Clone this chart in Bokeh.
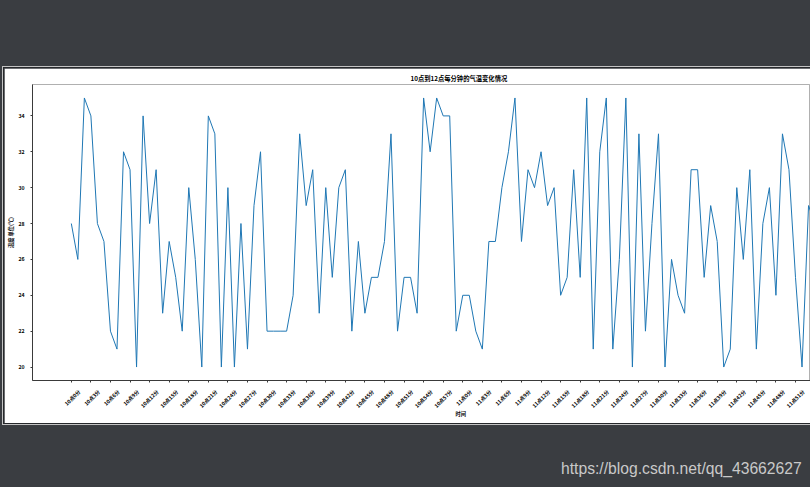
import math
from bokeh.plotting import figure
from bokeh.models import Range1d, FixedTicker, Title, Div, LinearAxis, CustomLabelingPolicy
from bokeh.layouts import column
from bokeh.embed import file_html
from bokeh.resources import INLINE

title_text = "10点到12点每分钟的气温变化情况"
x_label = "时间"
y_label = "温度 单位(℃)"
watermark = "https://blog.csdn.net/qq_43662627"

# temperature per minute from 10:00 (visible part of the chart)
temps = [28, 26, 35, 34, 28, 27, 22, 21, 32, 31, 20, 34, 28, 31, 23, 27, 25, 22, 30, 26,
         20, 34, 33, 20, 30, 20, 28, 21, 29, 32, 22, 22, 22, 22, 24, 33, 29, 31, 23, 30,
         25, 30, 31, 22, 27, 23, 25, 25, 27, 33, 22, 25, 25, 23, 35, 32, 35, 34, 34, 22,
         24, 24, 22, 21, 27, 27, 30, 32, 35, 27, 31, 30, 32, 29, 30, 24, 25, 31, 25, 35,
         21, 32, 35, 21, 26, 35, 20, 33, 22, 28, 33, 20, 26, 24, 23, 31, 31, 25, 29, 27,
         20, 21, 30, 26, 31, 21, 28, 30, 24, 33, 31, 25, 20, 29, 28]
minutes = list(range(len(temps)))
tick_minutes = list(range(0, 120, 3))
tick_labels = [f"{10 + m // 60}点{m % 60}分" for m in tick_minutes]
y_ticks = [20, 22, 24, 26, 28, 30, 32, 34]

FONT = "Noto Sans CJK SC"
DARK = "#3a3d41"

x_start, x_end = -5.95, 113.3
y_start, y_end = 19.25, 35.75

p = figure(width=806, height=355,
           x_range=Range1d(x_start, x_end), y_range=Range1d(y_start, y_end),
           output_backend="svg", toolbar_location=None,
           min_border_left=27, min_border_right=0, min_border_top=16, min_border_bottom=43)
p.margin = (68, 0, 0, 4)
p.styles = {"box-shadow": "0 0 0 1px #26282b, 0 0 0 2px #c4c4c4"}
p.border_fill_color = "white"
p.background_fill_color = "white"
p.outline_line_color = "#b0b0b0"
p.grid.visible = False

p.title.text = title_text
p.title.align = "left"
p.title.offset = 378
p.title.text_font = FONT
p.title.text_font_size = "6.3px"
p.title.text_font_style = "bold"
p.title.text_color = "black"
p.title.standoff = 4

# tick marks at the true minute positions (their labels are drawn by the axis below)
xa = p.xaxis[0]
xa.ticker = FixedTicker(ticks=tick_minutes)
xa.major_label_policy = CustomLabelingPolicy(code="return []")
xa.major_label_text_font_size = "1px"
xa.major_label_standoff = 0
xa.major_tick_out = 2
xa.major_tick_in = 0
xa.minor_tick_out = 0
xa.minor_tick_in = 0
xa.axis_line_color = "#3a3a3a"
xa.major_tick_line_color = "#3a3a3a"

# rotated labels, centred on their ticks like matplotlib's
shift = 1.2
p.extra_x_ranges = {"lab": Range1d(x_start - shift, x_end - shift)}
la = LinearAxis(x_range_name="lab", ticker=FixedTicker(ticks=tick_minutes),
                major_label_overrides={m: t for m, t in zip(tick_minutes, tick_labels)},
                major_label_orientation=math.pi / 4,
                axis_line_color=None, major_tick_line_color=None, minor_tick_line_color=None,
                major_tick_out=0, major_tick_in=0,
                major_label_standoff=4,
                major_label_text_font=FONT, major_label_text_font_size="5.2px",
                major_label_text_font_style="bold",
                major_label_text_color="black")
p.add_layout(la, "below")

ya = p.yaxis[0]
ya.ticker = FixedTicker(ticks=y_ticks)
ya.axis_label = y_label
ya.axis_label_text_font = FONT
ya.axis_label_text_font_size = "5.2px"
ya.axis_label_text_font_style = "bold"
ya.axis_label_text_color = "black"
ya.axis_label_standoff = 1
ya.major_label_text_font = FONT
ya.major_label_text_font_size = "5.2px"
ya.major_label_text_font_style = "bold"
ya.major_label_text_color = "black"
ya.major_label_standoff = 6
ya.major_tick_out = 2
ya.major_tick_in = 0
ya.minor_tick_out = 0
ya.minor_tick_in = 0
ya.axis_line_color = "#3a3a3a"
ya.major_tick_line_color = "#3a3a3a"

p.add_layout(Title(text=x_label, align="left", offset=423, vertical_align="top",
                   text_font=FONT, text_font_size="5.2px", text_font_style="bold",
                   text_color="black", standoff=-10), "below")

p.line(minutes, temps, line_color="#1f77b4", line_width=1)

bottom = Div(width=810, height=64,
             text=f'<div style="margin-left:556px;margin-top:30px;font-family:Liberation Sans;'
                  f'font-size:15.7px;color:#c9c9c9;white-space:nowrap">{watermark}</div>')
layout = column(p, bottom, width=810, height=487, styles={"background-color": DARK})

open("out.html", "w").write(file_html(layout, INLINE))
